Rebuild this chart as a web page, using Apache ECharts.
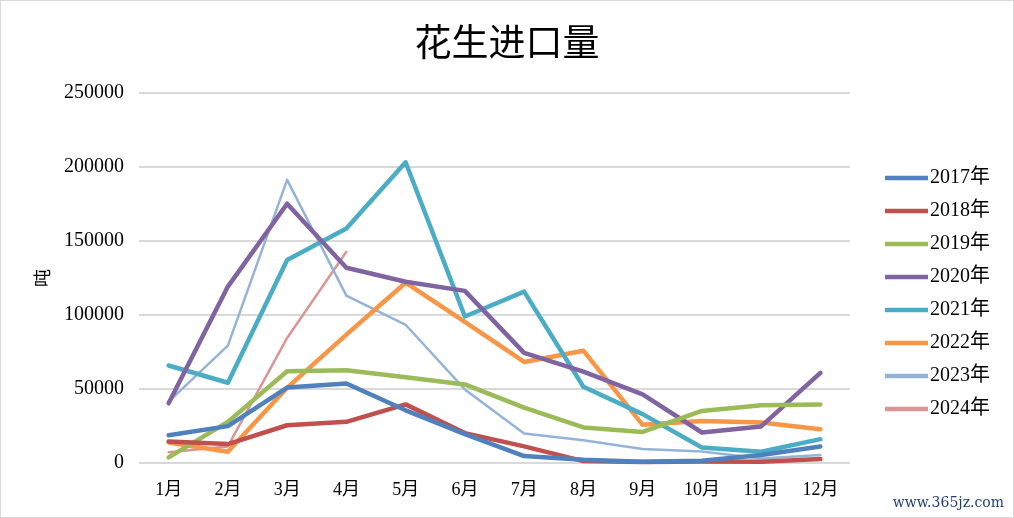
<!DOCTYPE html>
<html><head><meta charset="utf-8">
<script src="https://cdn.jsdelivr.net/npm/echarts@6/dist/echarts.min.js"></script>
<style>html,body{margin:0;padding:0;background:#fff}#c{width:1014px;height:518px;box-sizing:border-box;border:1px solid #d9d9d9}</style>
</head><body><div id="c"></div>
<script>
const months = ['1月','2月','3月','4月','5月','6月','7月','8月','9月','10月','11月','12月'];
const yTicks = [0, 50000, 100000, 150000, 200000, 250000];
const s2017 = [18800, 24900, 51000, 53700, 35600, 19500, 4700, 2200, 900, 1500, 5400, 11200];
const s2018 = [14600, 12800, 25500, 27800, 39600, 20200, 11200, 1300, 700, 1000, 900, 2700];
const s2019 = [3800, 27800, 62000, 62700, 58000, 53100, 37400, 24000, 21000, 35200, 39000, 39600];
const s2020 = [40300, 119200, 175200, 131900, 122500, 116300, 74400, 61800, 46400, 20600, 24700, 60900];
const s2021 = [65900, 54200, 137100, 158400, 203200, 99000, 115800, 51500, 33000, 10500, 7600, 16100];
const s2022 = [13900, 7600, 50800, 86700, 121800, 95400, 68300, 75900, 25800, 28400, 27300, 22800];
const s2023 = [41500, 79300, 191300, 113100, 93400, 49700, 19900, 15400, 9400, 7800, 3100, 5400];
const s2024 = [7200, 11200, 84500, 142700];
const seriesNames = ['2017年','2018年','2019年','2020年','2021年','2022年','2023年','2024年'];
const seriesData = [s2017, s2018, s2019, s2020, s2021, s2022, s2023, s2024];
const colors = ['#4F81BD','#C0504D','#9BBB59','#8064A2','#4BACC6','#F79646','#95B3D7','#D99694'];
const widths = [4.5,4.5,4.5,4.5,4.5,4.5,2.5,2.5];

const chart = echarts.init(document.getElementById('c'));
const serif = '"Liberation Serif","Noto Sans CJK SC",serif';
chart.setOption({
  animation: false,
  title: {text: '花生进口量', left: 'center', top: 17,
    textStyle: {fontFamily: '"Noto Sans CJK SC"', fontWeight: 'normal', fontSize: 37, color: '#000'}},
  legend: {
    orient: 'vertical', left: 884, top: 167, padding: 0, itemGap: 13, itemWidth: 43, itemHeight: 21,
    textStyle: {fontFamily: serif, fontSize: 20, color: '#000', padding: [0,0,0,-3]},
    data: seriesNames.map((n,i)=>({name:n, icon:'path://M0,0 L10,0 L10,1 L0,1 Z'}))
  },
  grid: {left: 138, right: 163, top: 92, bottom: 54},
  xAxis: {type: 'category', data: months, boundaryGap: true,
    axisLine: {show: false}, axisTick: {show: false},
    axisLabel: {fontFamily: serif, fontSize: 18, color: '#000', margin: 18}},
  yAxis: {type: 'value', min: 0, max: 250000, interval: 50000,
    name: '吨', nameLocation: 'middle', nameGap: 88,
    nameTextStyle: {fontFamily: '"Noto Sans CJK SC"', fontSize: 18, color: '#000'},
    axisLine: {show: false}, axisTick: {show: false},
    axisLabel: {fontFamily: serif, fontSize: 20, color: '#000', margin: 15,
      formatter: v => yTicks.includes(v) ? String(v) : ''},
    splitLine: {lineStyle: {color: '#d9d9d9', width: 2}}},
  series: seriesNames.map((n,i)=>({
    name: n, type: 'line', data: seriesData[i], symbol: 'none',
    lineStyle: {color: colors[i], width: widths[i], cap: 'round', join: 'round'},
    itemStyle: {color: colors[i]}, z: 10 - i
  })),
  graphic: [{type: 'text', right: 9, bottom: 7,
    style: {text: 'www.365jz.com', fontFamily: '"DejaVu Serif",serif', fontSize: 14, fill: '#1f3f7a'}}]
});
</script></body></html>
